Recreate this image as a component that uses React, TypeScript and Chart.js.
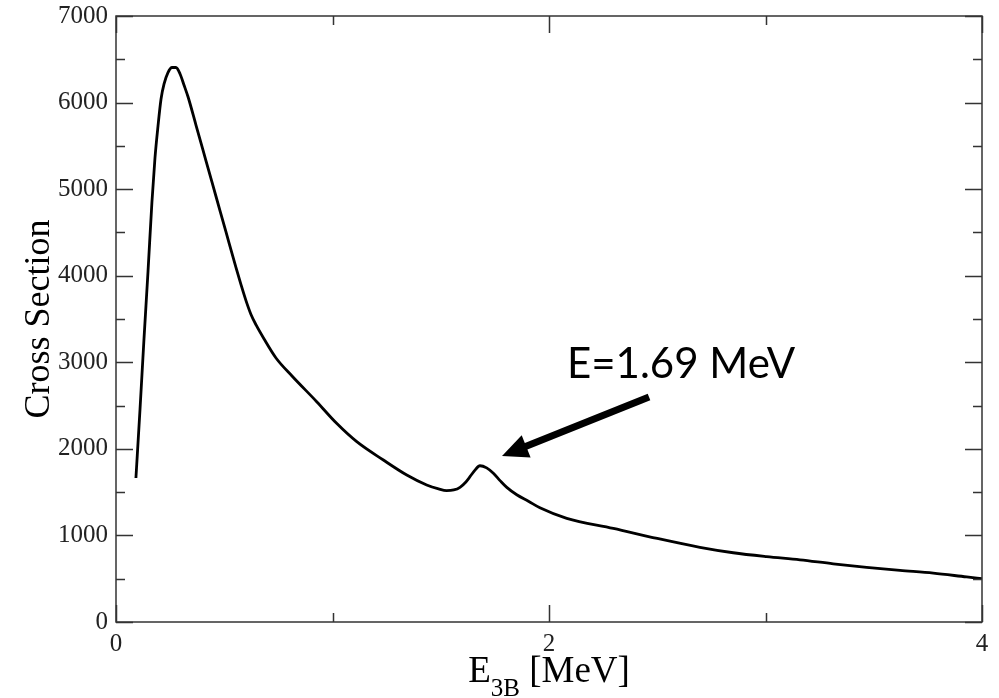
import React, { useEffect, useRef } from "react";
import { Chart, registerables } from "chart.js";

Chart.register(...registerables);

// ---- data ----
const energy = [
  0.092, 0.111, 0.129, 0.148, 0.166, 0.18, 0.194, 0.208, 0.222, 0.24, 0.259, 0.277,
  0.296, 0.314, 0.333, 0.37, 0.416, 0.462, 0.508, 0.554, 0.577, 0.6, 0.623, 0.647,
  0.684, 0.739, 0.813, 0.927, 1.019, 1.112, 1.235, 1.343, 1.435, 1.49, 1.527, 1.56,
  1.589, 1.615, 1.635, 1.66, 1.681, 1.712, 1.743, 1.775, 1.805, 1.851, 1.905, 1.958,
  2.082, 2.297, 2.5, 2.697, 2.851, 3.005, 3.159, 3.313, 3.467, 3.621, 3.775, 3.929, 4.0,
];
const crossSection = [
  1663, 2460, 3257, 4054, 4852, 5360, 5729, 6041, 6215, 6347, 6405, 6405,
  6330, 6203, 6064, 5735, 5325, 4915, 4505, 4095, 3900, 3715, 3555, 3431,
  3269, 3050, 2842, 2545, 2295, 2083, 1871, 1698, 1583, 1537, 1517, 1525,
  1556, 1615, 1678, 1760, 1805, 1780, 1718, 1630, 1555, 1470, 1395, 1320,
  1198, 1082, 965, 863, 800, 755, 718, 672, 632, 597, 565, 520, 500,
];

const xMin = 0;
const xMax = 4;
const xMajorStep = 2;
const xMinorStep = 1;
const yMin = 0;
const yMax = 7000;
const yMajorStep = 1000;
const yMinorStep = 500;

const yTitle = "Cross Section";
const xTitleMain = "E";
const xTitleSub = "3B";
const xTitleRest = " [MeV]";

const annotationText = "E=1.69 MeV";
const annotationAt = [2.083, 2818];
const arrowFrom = [2.462, 2599];
const arrowTo = [1.783, 1918];

const SERIF = "'Liberation Serif', 'Times New Roman', serif";

const decorPlugin = {
  id: "decor",
  afterDraw(chart: any) {
    const { ctx, chartArea } = chart;
    const xs = chart.scales.x;
    const ys = chart.scales.y;
    const { left, right, top, bottom } = chartArea;
    ctx.save();
    // frame
    ctx.strokeStyle = "#333";
    ctx.lineWidth = 1.5;
    ctx.strokeRect(left, top, right - left, bottom - top);
    // ticks
    const majorLen = 17;
    const minorLen = 9;
    ctx.beginPath();
    for (let v = xMin; v <= xMax + 1e-9; v += xMinorStep) {
      const isMajor = Math.abs(v / xMajorStep - Math.round(v / xMajorStep)) < 1e-9;
      const len = isMajor ? majorLen : minorLen;
      const px = Math.round(xs.getPixelForValue(v)) + 0.5;
      ctx.moveTo(px, bottom);
      ctx.lineTo(px, bottom - len);
      ctx.moveTo(px, top);
      ctx.lineTo(px, top + len);
    }
    for (let v = yMin; v <= yMax + 1e-9; v += yMinorStep) {
      const isMajor = Math.abs(v / yMajorStep - Math.round(v / yMajorStep)) < 1e-9;
      const len = isMajor ? majorLen : minorLen;
      const py = Math.round(ys.getPixelForValue(v)) + 0.5;
      ctx.moveTo(left, py);
      ctx.lineTo(left + len, py);
      ctx.moveTo(right, py);
      ctx.lineTo(right - len, py);
    }
    ctx.stroke();

    // x title with subscript
    ctx.fillStyle = "#000";
    ctx.textBaseline = "alphabetic";
    ctx.textAlign = "left";
    const mainFont = `37px ${SERIF}`;
    const subFont = `25px ${SERIF}`;
    ctx.font = mainFont;
    const wMain = ctx.measureText(xTitleMain).width;
    const wRest = ctx.measureText(xTitleRest).width;
    ctx.font = subFont;
    const wSub = ctx.measureText(xTitleSub).width;
    const total = wMain + wSub + wRest;
    const cx = (left + right) / 2;
    let tx = cx - total / 2;
    const baseY = 682;
    ctx.font = mainFont;
    ctx.fillText(xTitleMain, tx, baseY);
    tx += wMain;
    ctx.font = subFont;
    ctx.fillText(xTitleSub, tx, baseY + 14);
    tx += wSub;
    ctx.font = mainFont;
    ctx.fillText(xTitleRest, tx, baseY);

    // annotation text
    ctx.font = "42px Lato, 'Open Sans', sans-serif";
    ctx.fillText(
      annotationText,
      xs.getPixelForValue(annotationAt[0]),
      ys.getPixelForValue(annotationAt[1])
    );

    // arrow
    const x0 = xs.getPixelForValue(arrowFrom[0]);
    const y0 = ys.getPixelForValue(arrowFrom[1]);
    const x1 = xs.getPixelForValue(arrowTo[0]);
    const y1 = ys.getPixelForValue(arrowTo[1]);
    const ang = Math.atan2(y1 - y0, x1 - x0);
    const headLen = 26;
    const headHalf = 12;
    const bx = x1 - headLen * Math.cos(ang);
    const by = y1 - headLen * Math.sin(ang);
    ctx.strokeStyle = "#000";
    ctx.lineWidth = 7;
    ctx.lineCap = "butt";
    ctx.beginPath();
    ctx.moveTo(x0, y0);
    ctx.lineTo(bx + 2 * Math.cos(ang), by + 2 * Math.sin(ang));
    ctx.stroke();
    ctx.beginPath();
    ctx.moveTo(x1, y1);
    ctx.lineTo(bx + headHalf * Math.sin(ang), by - headHalf * Math.cos(ang));
    ctx.lineTo(bx - headHalf * Math.sin(ang), by + headHalf * Math.cos(ang));
    ctx.closePath();
    ctx.fillStyle = "#000";
    ctx.fill();
    ctx.restore();
  },
};

export default function App() {
  const canvasRef = useRef<HTMLCanvasElement | null>(null);

  useEffect(() => {
    if (!canvasRef.current) return;
    const points = energy.map((e, i) => ({ x: e, y: crossSection[i] }));
    const chart = new Chart(canvasRef.current, {
      type: "scatter",
      data: {
        datasets: [
          {
            data: points,
            showLine: true,
            borderColor: "#000",
            backgroundColor: "#000",
            borderWidth: 2.8,
            pointRadius: 0,
            cubicInterpolationMode: "monotone",
            borderJoinStyle: "round",
          } as any,
        ],
      },
      options: {
        animation: false,
        responsive: true,
        maintainAspectRatio: false,
        layout: { padding: { top: 16, right: 17, left: 0, bottom: 0 } },
        plugins: {
          legend: { display: false },
          tooltip: { enabled: false },
        },
        scales: {
          x: {
            type: "linear",
            min: xMin,
            max: xMax,
            grid: { display: false, drawTicks: false },
            border: { display: false },
            ticks: {
              stepSize: xMajorStep,
              color: "#222",
              padding: 7,
              font: { family: SERIF, size: 25 },
              maxRotation: 0,
              callback: (v: any) => String(v),
            },
            afterFit: (s: any) => {
              s.height = 76;
              s.paddingLeft = 0;
              s.paddingRight = 0;
            },
          },
          y: {
            type: "linear",
            min: yMin,
            max: yMax,
            grid: { display: false, drawTicks: false },
            border: { display: false },
            ticks: {
              stepSize: yMajorStep,
              color: "#222",
              padding: 8,
              font: { family: SERIF, size: 25 },
              callback: (v: any) => String(v),
            },
            title: {
              display: true,
              text: yTitle,
              color: "#000",
              font: { family: SERIF, size: 36 },
              padding: { top: 18, bottom: 0 },
            },
            afterFit: (s: any) => {
              s.width = 116;
              s.paddingTop = 0;
              s.paddingBottom = 0;
            },
          },
        },
      },
      plugins: [decorPlugin],
    });
    return () => chart.destroy();
  }, []);

  return (
    <div
      style={{
        position: "absolute",
        left: 0,
        top: 0,
        width: 999,
        height: 698,
        background: "#fff",
      }}
    >
      <canvas ref={canvasRef} />
    </div>
  );
}
